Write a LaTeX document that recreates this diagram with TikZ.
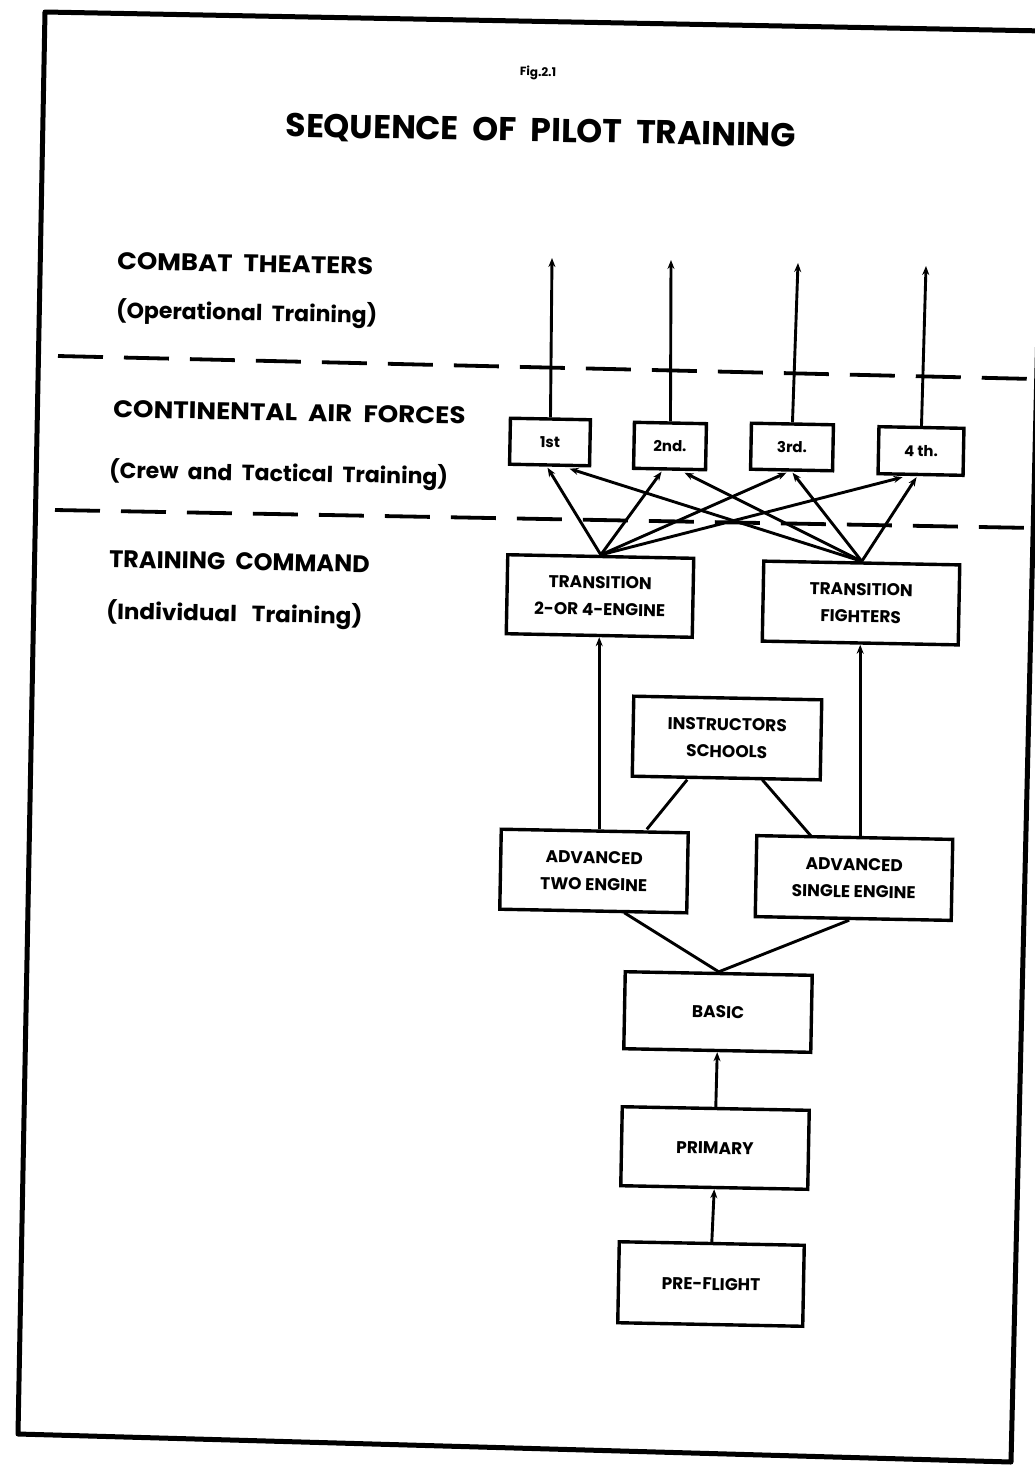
\documentclass[tikz,border=0pt]{standalone}
\usepackage{fontspec}
\setmainfont{Poppins}
\usetikzlibrary{arrows.meta,calc}
\newcommand\boxfnt{\fontsize{17}{27}\selectfont\bfseries}
\newcommand\headfnt{\fontsize{24}{28}\selectfont\bfseries}
\newcommand\subfnt{\fontsize{22}{26}\selectfont\bfseries}
\begin{document}
\begin{tikzpicture}[x=1pt,y=-1pt,
  tilt/.style={rotate=-1.1},
  stepbox/.style={draw, line width=3.4pt, tilt, inner sep=0pt, align=center, font=\boxfnt},
  smallbox/.style={stepbox, font=\fontsize{15}{18}\selectfont\bfseries},
  head/.style={tilt, anchor=west, inner sep=0pt, font=\headfnt},
  sub/.style={tilt, anchor=west, inner sep=0pt, font=\subfnt},
  conn/.style={line width=2.9pt},
  up/.style={conn, -{Stealth[length=9pt,width=7pt]}},
  divider/.style={line width=3.8pt, dash pattern=on 45pt off 21pt},
  frame/.style={line width=5pt, line join=round}]
\useasboundingbox (0,0) rectangle (1034,1467);
\fill[white] (0,0) rectangle (1034,1467);
% frame
\draw[frame] (45,12) -- (1045,31) -- (1011,1462) -- (18,1434) -- cycle;
% headings
\node[tilt, inner sep=0pt, font=\fontsize{12}{14}\selectfont\bfseries] (fig) at (538,73) {Fig.2.1};
\node[tilt, inner sep=0pt, font=\fontsize{33}{40}\selectfont\bfseries] (title) at (541,132) {SEQUENCE\ \ OF\ \ PILOT\ \ TRAINING};
\node[head] (ct) at (117,261) {\scalebox{1.08}[1]{COMBAT\ \ THEATERS}};
\node[sub] (ot) at (116,311) {(Operational\ \ Training)};
\node[head] (caf) at (113,409) {\scalebox{1.09}[1]{CONTINENTAL\ \ AIR\ \ FORCES}};
\node[sub] (ctt) at (109,471) {(Crew\ \ and\ \ Tactical\ \ Training)};
\node[head] (tc) at (109,559) {TRAINING\ \ COMMAND};
\node[sub] (it) at (106,612) {\scalebox{1.05}[1]{(Individual\ \ \ Training)}};
% dividers
\coordinate (d1a) at (58,356); \coordinate (d1b) at (1034,379);
\coordinate (d2a) at (55,510); \coordinate (d2b) at (1034,528);
\draw[divider] (d1a) -- (d1b);
\draw[divider] (d2a) -- (d2b);
% air force boxes
\node[smallbox, minimum width=80pt, minimum height=46pt] (b1) at (550,442) {1st};
\node[smallbox, minimum width=72pt, minimum height=46pt] (b2) at (670,446) {2nd.};
\node[smallbox, minimum width=82pt, minimum height=46pt] (b3) at (792,447) {3rd.};
\node[smallbox, minimum width=85pt, minimum height=47pt] (b4) at (921,451) {4 th.};
% training boxes
\node[stepbox, minimum width=186pt, minimum height=79pt] (t24) at (600,596) {TRANSITION\\2-OR 4-ENGINE};
\node[stepbox, minimum width=196pt, minimum height=80pt] (tf) at (861,603) {TRANSITION\\FIGHTERS};
\node[stepbox, minimum width=188pt, minimum height=80pt] (ins) at (727,738) {INSTRUCTORS\\SCHOOLS};
\node[stepbox, minimum width=187pt, minimum height=80pt] (ate) at (594,871) {ADVANCED\\TWO ENGINE};
\node[stepbox, minimum width=196pt, minimum height=81pt] (ase) at (854,878) {ADVANCED\\SINGLE ENGINE};
\node[stepbox, minimum width=187pt, minimum height=77pt] (basic) at (718,1012) {BASIC};
\node[stepbox, minimum width=187pt, minimum height=79pt] (primary) at (715,1148) {PRIMARY};
\node[stepbox, minimum width=185pt, minimum height=81pt] (pre) at (711,1284) {PRE-FLIGHT};
% to combat theaters
\coordinate (c1) at (552,258); \coordinate (c2) at (671,260);
\coordinate (c3) at (798,263); \coordinate (c4) at (926,266);
\draw[up] (b1.north) -- (c1);
\draw[up] (b2.north) -- (c2);
\draw[up] (b3.north) -- (c3);
\draw[up] (b4.north) -- (c4);
% transition to air forces
\draw[up] (t24.north) -- ($(b1.south)+(-2,1)$);
\draw[up] (t24.north) -- ($(b2.south)+(-8,1)$);
\draw[up] (t24.north) -- ($(b3.south)+(-5,1)$);
\draw[up] (t24.north) -- ($(b4.south)+(-18,1)$);
\draw[up] (tf.north) -- ($(b1.south)+(20,2)$);
\draw[up] (tf.north) -- ($(b2.south)+(15,2)$);
\draw[up] (tf.north) -- ($(b3.south)+(1,1)$);
\draw[up] (tf.north) -- ($(b4.south)+(-4,1)$);
% advanced to transition
\draw[up] (ate.north -| t24.south) -- (t24.south);
\draw[up] (ase.north -| tf.south) -- (tf.south);
% instructors schools
\draw[conn] ($(ins.south)+(-39,0)$) -- ($(ate.north)+(52,0)$);
\draw[conn] ($(ins.south)+(36,0)$) -- ($(ase.north)+(-44,0)$);
% advanced from basic
\draw[conn] (basic.north) -- ($(ate.south)+(31,0)$);
\draw[conn] (basic.north) -- ($(ase.south)+(-4,0)$);
% lower chain
\draw[up] (primary.north) -- (basic.south);
\draw[up] (pre.north) -- (primary.south);
\end{tikzpicture}
\end{document}
